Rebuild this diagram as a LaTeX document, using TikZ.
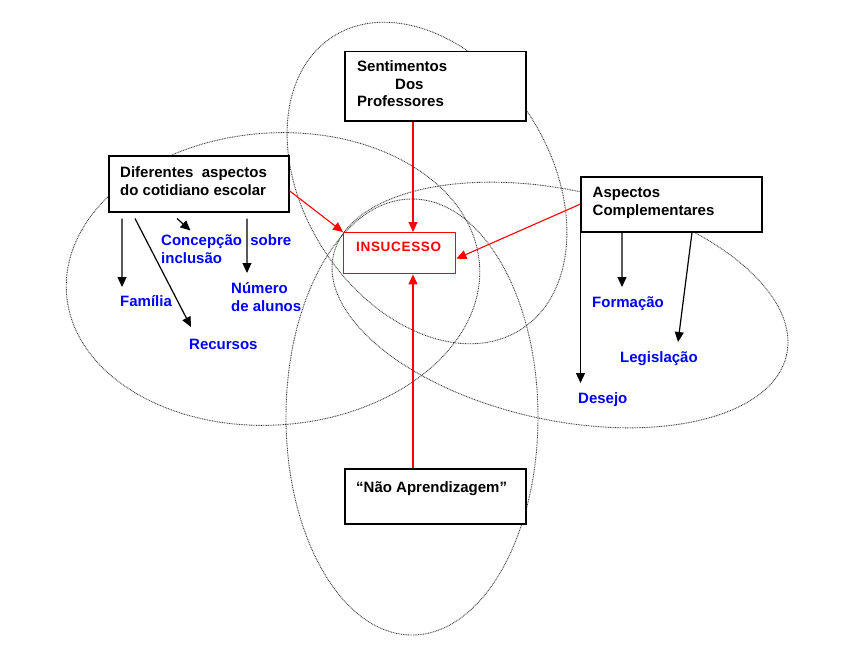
\documentclass[tikz,border=0pt]{standalone}
\usepackage{fontspec}
\setmainfont{Liberation Sans}
\usetikzlibrary{arrows.meta,calc}
\begin{document}
\begin{tikzpicture}[x=1bp,y=-1bp,
  venn/.style={draw=black!75, line width=0.9bp, dash pattern=on 0.9bp off 0.8bp},
  box/.style={draw=black, fill=white, line width=1.5bp, inner sep=0, anchor=north west},
  redbox/.style={draw=red, fill=white, line width=1.4bp, inner sep=0, anchor=north west},
  txt/.style={inner sep=0, anchor=base west, align=left, font=\fontsize{15bp}{17.5bp}\selectfont\bfseries},
  lbl/.style={txt, text=blue},
  blk/.style={draw=black, line width=1.2bp, -{Triangle[length=10bp,width=9bp]}},
  redarr/.style={draw=red, line width=1.1bp, -{Triangle[length=10bp,width=9bp]}}
]
\useasboundingbox[fill=white] (0,0) rectangle (850,653);

% ellipses
\draw[venn, shift={(427,183)}, rotate=32.8] (0,0) ellipse [x radius=123bp, y radius=174bp];
\draw[venn, shift={(273,279)}, rotate=4] (0,0) ellipse [x radius=207bp, y radius=146bp];
\draw[venn, shift={(560,305)}, rotate=-12.35] (0,0) ellipse [x radius=232bp, y radius=115bp];
\draw[venn] (412,417) ellipse [x radius=126bp, y radius=218bp];

% boxes
\node[box, minimum width=181bp, minimum height=69bp] (sent) at (344,51) {};
\node[box, minimum width=180bp, minimum height=56bp] (dif) at (108,155) {};
\node[redbox, minimum width=112bp, minimum height=41bp] (ins) at (343,232) {};
\node[box, minimum width=181bp, minimum height=55bp] (asp) at (580,176) {};
\node[box, minimum width=181bp, minimum height=55bp] (nao) at (344,468) {};

% box texts (anchor = baseline of the last line)
\node[txt] (tsent) at (357,107) {Sentimentos\\\hspace*{38bp}Dos\\Professores};
\node[txt] (tdif) at (120,195) {Diferentes\ \ aspectos\\do cotidiano escolar};
\node[txt, text=red, font=\fontsize{13.5bp}{17bp}\selectfont\bfseries\addfontfeature{LetterSpace=5}] (tins) at (356,251) {INSUCESSO};
\node[txt] (tasp) at (592.5,215) {Aspectos\\Complementares};
\node[txt] (tnao) at (356,492) {“Não Aprendizagem”};

% labels
\node[lbl] (fam) at (120,306) {Família};
\node[lbl] (rec) at (189,349) {Recursos};
\node[lbl] (conc) at (161,263) {Concepção\ \ sobre\\inclusão};
\node[lbl] (num) at (231,311) {Número\\de alunos};
\node[lbl] (form) at (592,307) {Formação};
\node[lbl] (leg) at (620,362) {Legislação};
\node[lbl] (des) at (578,403) {Desejo};

% arrow tips
\coordinate (ax) at (413,0);
\coordinate (famtip) at (122,287);
\coordinate (rectip) at (191,327);
\coordinate (conctip) at (190.5,230.5);
\coordinate (numtip) at (247,273);
\coordinate (destip) at (580.5,383);
\coordinate (formtip) at (622,287);
\coordinate (legtip) at (678,342);

% red arrows
\draw[redarr] ([yshift=-7bp]dif.east) -- (ins.north west);
\draw[redarr] (sent.south -| ax) -- (ins.north -| ax);
\draw[redarr] (asp.west) -- ([yshift=-5.5bp]ins.east);
\draw[redarr] (nao.north -| ax) -- (ins.south -| ax);

% black arrows
\draw[blk] ([xshift=14bp,yshift=-6bp]dif.south west) -- (famtip);
\draw[blk] ([xshift=27bp,yshift=-6bp]dif.south west) -- (rectip);
\draw[blk] ([xshift=69bp,yshift=-6bp]dif.south west) -- (conctip);
\draw[blk] ([xshift=139bp,yshift=-6bp]dif.south west) -- (numtip);
\draw[blk] ([xshift=0.5bp]asp.south west) -- (destip);
\draw[blk] ([xshift=42bp]asp.south west) -- (formtip);
\draw[blk] ([xshift=112bp]asp.south west) -- (legtip);
\end{tikzpicture}
\end{document}
